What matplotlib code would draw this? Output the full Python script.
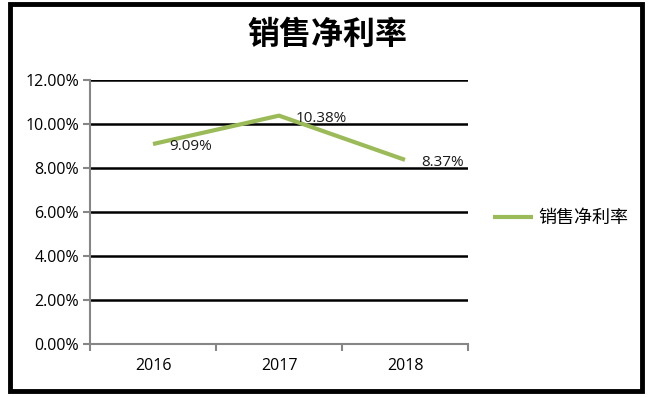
import matplotlib

matplotlib.use("Agg")
import matplotlib.pyplot as plt
from matplotlib.patches import Rectangle
from matplotlib.ticker import FuncFormatter

plt.rcParams["font.family"] = ["Open Sans", "Noto Sans CJK SC", "DejaVu Sans"]

# données
years = ["2016", "2017", "2018"]
net_margin = [9.09, 10.38, 8.37]
point_labels = ["9.09%", "10.38%", "8.37%"]
y_ticks = [0, 2, 4, 6, 8, 10, 12]

LINE_COLOR = "#9BBB59"
CJK = ["Noto Sans CJK SC", "DejaVu Sans"]

fig = plt.figure(figsize=(6.58, 3.97), dpi=100)
ax = fig.add_axes([90 / 658, 1 - 344 / 397, 378 / 658, 264 / 397])

x = list(range(len(years)))
ax.plot(x, net_margin, color=LINE_COLOR, lw=3, solid_capstyle="butt", label="销售净利率", zorder=3)

# étiquettes de valeurs, à droite et légèrement sous chaque point
for xi, yi, txt in zip(x, net_margin, point_labels):
    ax.annotate(txt, (xi, yi), xytext=(12, -2), textcoords="offset points",
                ha="left", va="center", fontsize=11, color="#1a1a1a", zorder=4)

ax.set_xlim(-0.5, len(years) - 0.5)
ax.set_ylim(0, 12)
ax.set_yticks(y_ticks)
ax.yaxis.set_major_formatter(FuncFormatter(lambda v, _: f"{v:.2f}%"))
ax.set_xticks(x)
ax.set_xticklabels(years)
ax.set_xticks([-0.5, 0.5, 1.5, 2.5], minor=True)
ax.tick_params(axis="x", which="major", length=0, pad=10, labelsize=11.5)
ax.tick_params(axis="x", which="minor", length=5, width=1.5, color="#868686")
ax.tick_params(axis="y", length=5, width=1.5, color="#868686", labelsize=11.5, pad=3)

ax.grid(axis="y", color="black", lw=1.8, zorder=1)
for s in ("top", "right"):
    ax.spines[s].set_visible(False)
for s in ("left", "bottom"):
    ax.spines[s].set_color("#868686")
    ax.spines[s].set_linewidth(1.5)
    ax.spines[s].set_zorder(2)

fig.legend(loc="center left", bbox_to_anchor=(493 / 658, 1 - 218 / 397),
           frameon=False, borderpad=0, borderaxespad=0,
           handlelength=2.2, handletextpad=0.3,
           prop={"family": CJK, "size": 13})

fig.text(327 / 658, 1 - 35 / 397, "销售净利率", ha="center", va="center",
         fontsize=23, fontweight="bold", family=CJK)

# cadre extérieur noir épais
fig.patches.append(Rectangle((10 / 658, 1 - 391 / 397), 632 / 658, 387 / 397,
                             transform=fig.transFigure, fill=False,
                             edgecolor="black", lw=3.5))

fig.savefig("out.png", dpi=100)
